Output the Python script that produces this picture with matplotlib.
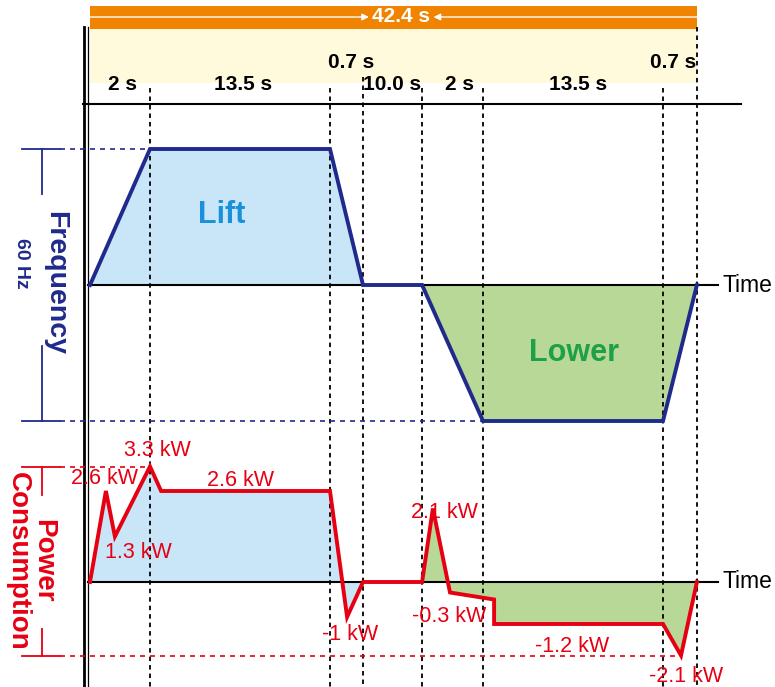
import numpy as np
import matplotlib.pyplot as plt

plt.rcParams['font.family'] = ['Liberation Sans', 'DejaVu Sans']

# phases of one lift + lower cycle
phase_labels = ['2 s', '13.5 s', '0.7 s', '10.0 s', '2 s', '13.5 s', '0.7 s']
phase_seconds = [2, 13.5, 0.7, 10.0, 2, 13.5, 0.7]
# the drawing is schematic: width of each phase on the time axis (not to scale)
phase_widths = [2, 6, 1.1, 1.97, 2.03, 6, 1.13]
boundaries = np.concatenate([[0], np.cumsum(phase_widths)])

# inverter output frequency at each phase boundary (Hz)
freq_hz = [0, 60, 60, 0, 0, -60, -60, 0]

# power consumption profile (schematic time, kW)
power_t = [0, 0.53, 0.83, 2.0, 2.37, 8.0, 8.57, 9.1, 11.07, 11.43, 12.0, 13.47, 13.47, 19.1, 19.7, 20.23]
power_kw = [0, 2.6, 1.3, 3.3, 2.6, 2.6, -1, 0, 0, 2.1, -0.3, -0.5, -1.2, -1.2, -2.1, 0]

# values written next to the power curve
power_notes = [3.3, 2.6, 1.3, 2.6, -1, 2.1, -0.3, -1.2, -2.1]
note_xy = [(2.23, 450), (0.47, 478), (1.6, 553), (5.03, 481), (8.67, 635),
           (11.8, 513), (11.97, 617), (16.07, 647), (19.87, 677)]
label_xy = [(1.1, 84), (5.1, 84), (8.7, 63), (10.07, 84), (12.33, 84), (16.27, 84), (19.43, 63)]

NAVY = '#1f2a8c'
RED = '#e60012'
LIGHT_BLUE = '#c8e6f8'
LIGHT_GREEN = '#b8d898'
ORANGE = '#f08300'
CREAM = '#fefadb'

W, H = 775, 687
XLIM = (-3, (W - 90) / 30)

fig = plt.figure(figsize=(W / 100, H / 100), dpi=100)

# frequency panel: zero line at y=285 px
fs = 136 / 60
ax_f = fig.add_axes([0, 1 - 440 / H, 1, 340 / H])
ax_f.set_xlim(XLIM)
ax_f.set_ylim(-(440 - 285) / fs, (285 - 100) / fs)
# power panel: zero line at y=582 px
ps = 35
ax_p = fig.add_axes([0, 0, 1, 247 / H])
ax_p.set_xlim(XLIM)
ax_p.set_ylim(-(H - 582) / ps, (582 - 440) / ps)
for a in (ax_f, ax_p):
    a.axis('off')
    a.patch.set_alpha(0)

# overlay in pixel rows for decoration
ax = fig.add_axes([0, 0, 1, 1])
ax.set_autoscale_on(False)
ax.set_xlim(XLIM)
ax.set_ylim(H, 0)
ax.axis('off')
ax.patch.set_alpha(0)

# fills
ft = np.asarray(boundaries)
fh = np.asarray(freq_hz)
ax_f.fill_between(ft[:4], fh[:4], 0, color=LIGHT_BLUE, lw=0)
ax_f.fill_between(ft[4:], fh[4:], 0, color=LIGHT_GREEN, lw=0)
pt = np.asarray(power_t)
pk = np.asarray(power_kw)
m1 = pt <= boundaries[3]
m2 = pt >= boundaries[4]
ax_p.fill_between(pt[m1], pk[m1], 0, color=LIGHT_BLUE, lw=0)
ax_p.fill_between(pt[m2], pk[m2], 0, color=LIGHT_GREEN, lw=0)

# header bands
total = boundaries[-1]
ax.fill_between([0, total], 6, 29, color=ORANGE, lw=0)
ax.fill_between([0, total], 29, 83, color=CREAM, lw=0)
ax.text(10.37, 17, f'{sum(phase_seconds):.1f} s', color='white', fontsize=15,
        fontweight='bold', ha='center', va='center')
arrow = dict(arrowstyle='-|>', color='white', lw=1, mutation_scale=10, shrinkA=0, shrinkB=0)
ax.annotate('', xy=(9.3, 17), xytext=(0, 17), arrowprops=arrow)
ax.annotate('', xy=(11.45, 17), xytext=(total, 17), arrowprops=arrow)

for lab, (x, y) in zip(phase_labels, label_xy):
    ax.text(x, y, lab, fontsize=15, fontweight='bold', ha='center', va='center')

# frame lines
ax.plot([-0.2, -0.2], [27, H], color='black', lw=2.0)
ax.plot([-0.067, -0.067], [27, H], color='black', lw=0.9)
ax.plot([-0.23, 21.7], [104, 104], color='black', lw=1.5)

# phase boundaries
starts = [88, 88, 77, 88, 88, 88, 27]
for x, y0 in zip(boundaries[1:], starts):
    ax.plot([x, x], [y0, H], color='black', lw=1.3, linestyle=(0, (2.5, 2.2)))

# time axes
ax.plot([-0.067, 20.93], [0, 0], color='black', lw=1.5, transform=ax_f.transData)
ax.plot([-0.067, 20.93], [0, 0], color='black', lw=1.5, transform=ax_p.transData)
ax.text(21.07, 285, 'Time', fontsize=16.5, ha='left', va='center')
ax.text(21.07, 582, 'Time', fontsize=16.5, ha='left', va='center')

# frequency scale
fmax, fmin = max(freq_hz), min(freq_hz)
ax.plot([-1.6, -1.6], [fmax, 40], color=NAVY, lw=1.3, transform=ax_f.transData)
ax.plot([-1.6, -1.6], [-27, fmin], color=NAVY, lw=1.3, transform=ax_f.transData)
for v in (fmax, fmin):
    ax.plot([-2.27, -1.0], [v, v], color=NAVY, lw=1.3, transform=ax_f.transData)
ax.plot([-1.0, boundaries[1]], [fmax, fmax], color=NAVY, lw=1.2,
        linestyle=(0, (3, 3)), transform=ax_f.transData)
ax.plot([-1.0, boundaries[5]], [fmin, fmin], color=NAVY, lw=1.2,
        linestyle=(0, (3, 3)), transform=ax_f.transData)
ax.text(-1.17, 283, 'Frequency', rotation=-90, color=NAVY, fontsize=20.5,
        fontweight='bold', ha='center', va='center')
ax.text(-2.27, 263, f'{fmax} Hz', rotation=-90, color=NAVY, fontsize=14,
        fontweight='bold', ha='center', va='center')

# power scale
pmax, pmin = max(power_kw), min(power_kw)
ax.plot([-1.6, -1.6], [pmax, 2.5], color=RED, lw=1.3, transform=ax_p.transData)
ax.plot([-1.6, -1.6], [-1.35, pmin], color=RED, lw=1.3, transform=ax_p.transData)
for v in (pmax, pmin):
    ax.plot([-2.27, -1.0], [v, v], color=RED, lw=1.3, transform=ax_p.transData)
ax.plot([-1.0, boundaries[1]], [pmax, pmax], color=RED, lw=1.2,
        linestyle=(0, (3, 3)), transform=ax_p.transData)
ax.plot([-1.0, 19.7], [pmin, pmin], color=RED, lw=1.2,
        linestyle=(0, (3, 3)), transform=ax_p.transData)
ax.text(-1.98, 561, 'Power\nConsumption', rotation=-90, color=RED, fontsize=20,
        fontweight='bold', ha='center', va='center', multialignment='center',
        linespacing=0.95)

# profiles
ax.plot(ft, fh, color=NAVY, lw=2.8, solid_joinstyle='miter', transform=ax_f.transData)
ax.plot(pt, pk, color=RED, lw=2.8, solid_joinstyle='miter', transform=ax_p.transData)

ax.text(4.4, 215, 'Lift', color='#1a8fdc', fontsize=22, fontweight='bold',
        ha='center', va='center')
ax.text(16.13, 353, 'Lower', color='#1ea048', fontsize=22, fontweight='bold',
        ha='center', va='center')

for v, (x, y) in zip(power_notes, note_xy):
    ax.text(x, y, f'{v:g} kW', color=RED, fontsize=15.5, ha='center', va='center')

fig.savefig('out.png', dpi=100)
